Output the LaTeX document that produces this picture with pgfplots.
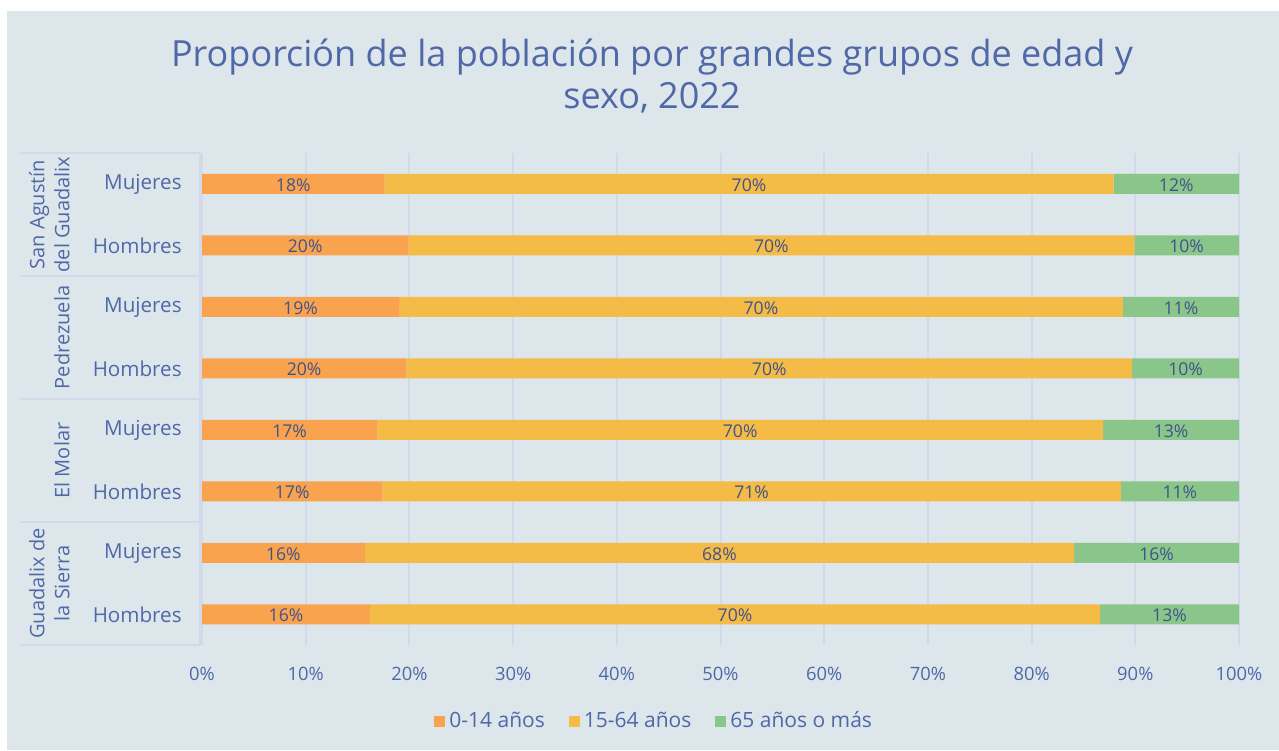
\documentclass[border=0pt]{standalone}
\usepackage{pgfplots}
\usepackage{pgfplotstable}
\pgfplotsset{compat=1.18}
\usepackage{fontspec}
\setmainfont{Open Sans}
\definecolor{bg}{HTML}{DCE6EB}
\definecolor{txt}{HTML}{5068A8}
\definecolor{lbl}{HTML}{40538A}
\definecolor{grd}{HTML}{D2D9EA}
\definecolor{c1}{HTML}{F9A34F}
\definecolor{c2}{HTML}{F4BB47}
\definecolor{c3}{HTML}{8AC68A}
\pgfplotstableread{
y a b c
0 16.2 70.4 13.4
1 15.7 68.4 15.9
2 17.4 71.2 11.4
3 16.9 70.0 13.1
4 19.7 70.0 10.3
5 19.0 69.8 11.2
6 19.9 70.0 10.1
7 17.6 70.3 12.1
}\datatable
\begin{document}
\begin{tikzpicture}[x=0.5pt,y=0.5pt]
\fill[white] (0,0) rectangle (1279,750);
\fill[bg] (7,0) rectangle (1279,739);
\begin{axis}[
  at={(101pt,52.5pt)}, anchor=south west,
  scale only axis, width=518.5pt, height=246pt,
  xbar stacked, bar width=10pt,
  xmin=0, xmax=100, ymin=-0.5, ymax=7.5,
  clip=false,
  axis line style={draw=none},
  major tick length=0pt,
  xtick={0,10,...,100},
  xmajorgrids, grid style={grd, line width=1pt},
  xticklabel={\pgfmathprintnumber{\tick}\%},
  /pgf/number format/assume math mode=true,
  xticklabel style={anchor=base, yshift=-17.5pt, font=\fontsize{9.2}{10}\selectfont, text=txt},
  ytick={0,...,7},
  yticklabels={Hombres,Mujeres,Hombres,Mujeres,Hombres,Mujeres,Hombres,Mujeres},
  yticklabel style={anchor=east, inner sep=0pt, xshift=-10pt, yshift=-0.5pt, font=\fontsize{10.3}{10}\selectfont, text=txt},
  nodes near coords={\pgfmathprintnumber[fixed,precision=0]{\rawv}\%},
  visualization depends on=rawx \as \rawv,
  every node near coord/.append style={anchor=center, font=\fontsize{8.8}{10}\selectfont, text=lbl, yshift=-0.5pt},
  legend style={at={(axis description cs:0.437,-0.155)}, anchor=center, draw=none, fill=none,
    legend columns=3, font=\fontsize{10.5}{11}\selectfont, text=txt,
    /tikz/every even column/.append style={column sep=10pt}},
  legend image code/.code={\path[#1,draw=none] (0pt,-2.75pt) rectangle (5.5pt,2.75pt);},
]
\addplot[fill=c1, draw=none] table[x=a, y=y] {\datatable};
\addplot[fill=c2, draw=none] table[x=b, y=y] {\datatable};
\addplot[fill=c3, draw=none] table[x=c, y=y] {\datatable};
\legend{0-14 años, 15-64 años, 65 años o más}
\draw[grd, line width=1pt] (axis cs:-17.55,7.5) -- (axis cs:-0.2,7.5);
\draw[grd, line width=1pt] (axis cs:-17.55,5.5) -- (axis cs:-0.2,5.5);
\draw[grd, line width=1pt] (axis cs:-17.55,3.5) -- (axis cs:-0.2,3.5);
\draw[grd, line width=1pt] (axis cs:-17.55,1.5) -- (axis cs:-0.2,1.5);
\draw[grd, line width=1pt] (axis cs:-17.55,-0.5) -- (axis cs:-0.2,-0.5);
\draw[grd, line width=1pt] (axis cs:-0.2,-0.5) -- (axis cs:-0.2,7.5);
\node[rotate=90, anchor=south, align=center, inner sep=0pt, text=txt, font=\fontsize{10}{12.5}\selectfont] at (axis cs:-12.73,6.5) {San Agustín\\del Guadalix};
\node[rotate=90, anchor=south, align=center, inner sep=0pt, text=txt, font=\fontsize{10}{12.5}\selectfont] at (axis cs:-12.73,4.5) {Pedrezuela};
\node[rotate=90, anchor=south, align=center, inner sep=0pt, text=txt, font=\fontsize{10}{12.5}\selectfont] at (axis cs:-12.73,2.5) {El Molar};
\node[rotate=90, anchor=south, align=center, inner sep=0pt, text=txt, font=\fontsize{10}{12.5}\selectfont] at (axis cs:-12.73,0.5) {Guadalix de\\la Sierra};
\end{axis}
\node[align=center, text=txt, font=\fontsize{18}{21}\selectfont] at (652,674) {Proporción de la población por grandes grupos de edad y\\sexo, 2022};
\end{tikzpicture}
\end{document}
